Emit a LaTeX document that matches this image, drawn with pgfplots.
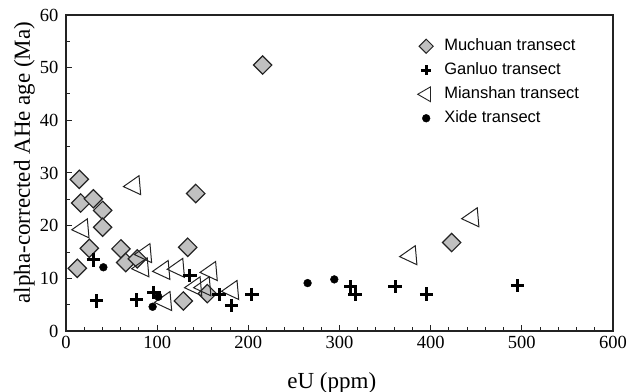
\documentclass[border=0pt]{standalone}
\usepackage{pgfplots}
\pgfplotsset{compat=1.18}
\usepackage{fontspec}
\setmainfont{Liberation Serif}
\newfontfamily\legendfont{Liberation Sans}
\definecolor{dgray}{RGB}{192,192,192}
\definecolor{edge}{RGB}{35,35,35}
\begin{document}
\begin{tikzpicture}
\begin{axis}[
  scale only axis, width=547bp, height=316bp,
  xmin=0, xmax=600, ymin=0, ymax=60,
  xtick={0,100,...,600}, ytick={0,10,...,60},
  minor x tick num=4, minor y tick num=1,
  tick pos=left, tick align=inside,
  major tick length=6bp, minor tick length=4bp,
  axis line style={line width=1.3bp, edge},
  every tick/.style={edge, line width=1bp},
  /pgf/number format/assume math mode=true,
  tick label style={font=\fontsize{18.5bp}{21bp}\selectfont},
  xticklabel style={yshift=-2bp},
  yticklabel style={xshift=-4bp},
  xlabel={eU (ppm)}, ylabel={alpha-corrected AHe age (Ma)},
  label style={font=\fontsize{23bp}{26bp}\selectfont},
  xlabel style={at={(axis description cs:0.486,-0.164)}, anchor=center},
  ylabel style={at={(axis description cs:-0.076,0.533)}, anchor=center},
  clip=false,
  legend style={draw=none, fill=none, at={(axis description cs:0.6426,0.927)}, anchor=north west,
    inner sep=0pt, row sep=8bp, column sep=11bp,
    font=\legendfont\fontsize{16.5bp}{19bp}\selectfont,
    nodes={inner sep=0pt, text height=12bp, text depth=4bp}},
  legend cell align=left,
]
% Muchuan
\addplot[only marks, forget plot, mark=square*, mark size=6.5bp,
  mark options={rotate=45, fill=dgray, draw=edge, line width=1.2bp}] coordinates {
(14.6,28.8) (16.1,24.3) (30,25.1) (40.2,22.9) (40.2,19.7) (25.6,15.7)
(12.4,11.9) (60.3,15.6) (65.5,13.0) (78.2,13.7) (142.3,26.1) (133.5,15.9)
(128.7,5.7) (155,7.1) (215.7,50.5) (423,16.8)
};
% Mianshan
\addplot[only marks, forget plot, mark=triangle, mark size=11bp,
  mark options={rotate=95, draw=edge, line width=1bp}] coordinates {
(18.3,19.4) (75,27.6) (87,14.7) (84,12.0) (107,11.5) (123,11.9)
(142,8.4) (152,8.4) (159,11.3) (109,5.6) (182.5,7.7) (378,14.3) (446,21.5)
};
% Ganluo
\addplot[only marks, forget plot, mark=+, mark size=6.7bp,
  mark options={line width=3bp, black}] coordinates {
(30,13.5) (33.6,5.7) (77.5,5.9) (96.5,7.3) (136,10.5) (168,6.9)
(181.5,4.8) (204,6.9) (312.3,8.4) (317,7.0) (361,8.4) (395.6,7.0) (495.4,8.6)
};
% Xide
\addplot[only marks, forget plot, mark=*, mark size=3.9bp,
  mark options={black}] coordinates {
(41,12.1) (95,4.6) (101.3,6.5) (265,9.1) (294.3,9.8)
};
\addlegendimage{only marks, mark=square*, mark size=5bp, mark options={rotate=45, fill=dgray, draw=edge, line width=1bp}}
\addlegendentry{Muchuan transect}
\addlegendimage{only marks, mark=+, mark size=5bp, mark options={line width=2.6bp, black}}
\addlegendentry{Ganluo transect}
\addlegendimage{only marks, mark=triangle, mark size=8.5bp, mark options={rotate=90, draw=edge, line width=0.9bp}}
\addlegendentry{Mianshan transect}
\addlegendimage{only marks, mark=*, mark size=3.9bp, mark options={black}}
\addlegendentry{Xide transect}
\end{axis}
\pgfresetboundingbox
\path[use as bounding box] ([xshift=-66bp,yshift=-61bp]current axis.south west) rectangle ([xshift=17bp,yshift=15bp]current axis.north east);
\end{tikzpicture}
\end{document}
